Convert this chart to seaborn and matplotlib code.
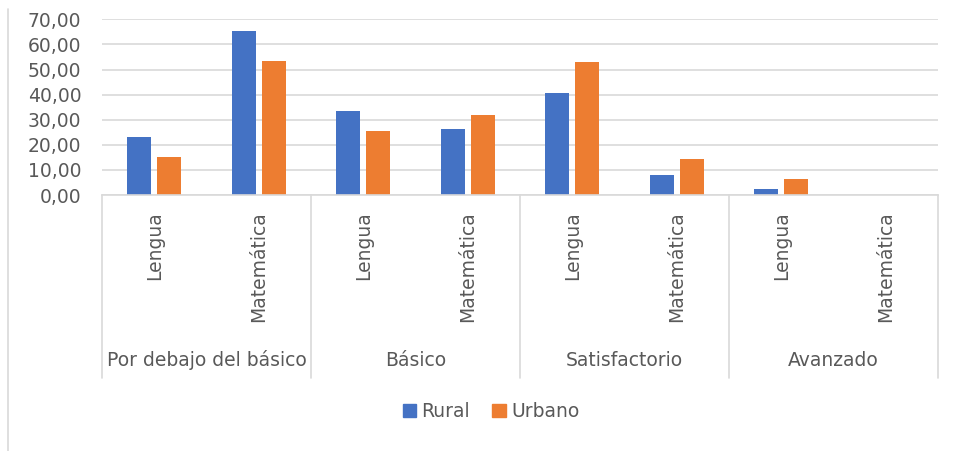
import numpy as np
import pandas as pd
import matplotlib.pyplot as plt
import matplotlib.transforms as mtransforms
from matplotlib.patches import Patch
import seaborn as sns

# data
niveles = ["Por debajo del básico", "Básico", "Satisfactorio", "Avanzado"]
materias = ["Lengua", "Matemática"]
rural = [23.2, 65.4, 33.6, 26.4, 40.8, 8.1, 2.4, np.nan]
urbano = [15.3, 53.5, 25.5, 32.0, 52.9, 14.3, 6.4, np.nan]
y_ticks = [0, 10, 20, 30, 40, 50, 60, 70]

BLUE = "#4472C4"
ORANGE = "#ED7D31"
GRID = "#D9D9D9"
TEXT = "#595959"
FS = 13.5

keys = [f"{n}|{m}" for n in niveles for m in materias]
df = pd.DataFrame({
    "key": keys * 2,
    "valor": rural + urbano,
    "zona": ["Rural"] * len(keys) + ["Urbano"] * len(keys),
})

sns.set_style("white")
plt.rcParams["font.family"] = ["DejaVu Sans"]

fig = plt.figure(figsize=(9.59, 4.51), dpi=100)
ax = fig.add_axes([0.1064, 0.5676, 0.8717, 0.3896])

sns.barplot(data=df, x="key", y="valor", hue="zona", order=keys,
            palette=[BLUE, ORANGE], width=0.57, gap=0.2, ax=ax,
            legend=False, saturation=1, linewidth=0)

ax.set_xlim(-0.5, len(keys) - 0.5)
ax.set_ylim(0, 70)
ax.set_yticks(y_ticks)
ax.set_yticklabels([f"{v:.2f}".replace(".", ",") for v in y_ticks],
                   color=TEXT, fontsize=FS)
ax.yaxis.grid(True, color=GRID, linewidth=1.2)
ax.set_axisbelow(True)
for s in ["top", "right", "left"]:
    ax.spines[s].set_visible(False)
ax.spines["bottom"].set_color(GRID)
ax.spines["bottom"].set_linewidth(1.2)
ax.tick_params(axis="y", length=0, pad=15)
ax.tick_params(axis="x", length=0, pad=12)
ax.set_xticks(range(len(keys)))
ax.set_xticklabels([k.split("|")[1] for k in keys], rotation=90,
                   color=TEXT, fontsize=FS)
ax.set_xlabel("")
ax.set_ylabel("")

# multi-level category axis
trans = mtransforms.blended_transform_factory(ax.transData, ax.transAxes)
for i in range(len(niveles) + 1):
    xpos = -0.5 + 2 * i
    ax.plot([xpos, xpos], [0, -1.042], transform=trans, color=GRID,
            linewidth=1.2, clip_on=False)
for i, n in enumerate(niveles):
    ax.text(0.5 + 2 * i, -0.939, n, transform=trans, ha="center",
            va="center", color=TEXT, fontsize=FS)

# legend
handles = [Patch(color=BLUE, label="Rural"), Patch(color=ORANGE, label="Urbano")]
fig.legend(handles=handles, loc="center", bbox_to_anchor=(0.512, 0.087),
           ncol=2, frameon=False, fontsize=FS, handlelength=0.7,
           handleheight=0.7, handletextpad=0.3, columnspacing=1.2,
           labelcolor=TEXT)

# chart frame line on the left
fig.add_artist(plt.Line2D([0.0083, 0.0083], [0.0, 0.98], color=GRID,
                          linewidth=1.2, transform=fig.transFigure))

fig.savefig("out.png", dpi=100)
